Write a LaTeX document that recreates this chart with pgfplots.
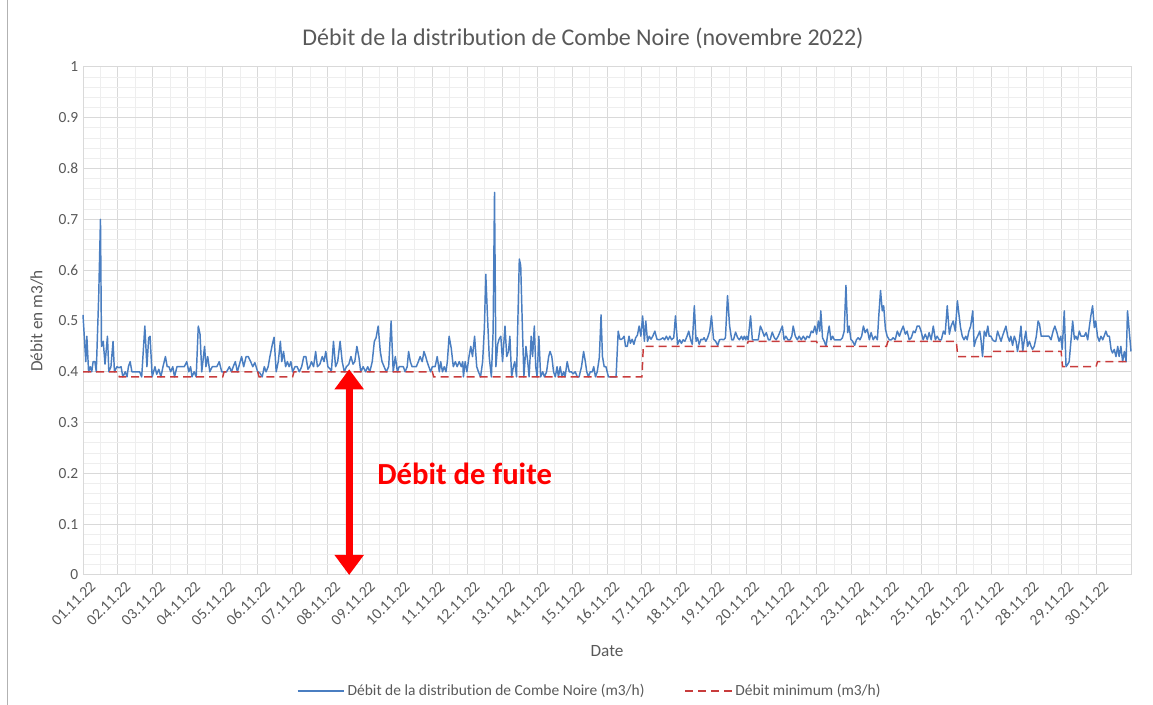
\documentclass[border=0pt]{standalone}
\usepackage{pgfplots}
\pgfplotsset{compat=1.18}
\usepackage{fontspec}
\setmainfont{Carlito}[Ligatures=NoCommon]
\usetikzlibrary{arrows.meta}
\definecolor{blueline}{RGB}{74,126,193}
\definecolor{redline}{RGB}{200,60,60}
\definecolor{txt}{RGB}{89,89,89}
\definecolor{gmaj}{RGB}{217,217,217}
\definecolor{gmin}{RGB}{238,238,238}
\begin{document}
\begin{tikzpicture}
\useasboundingbox (0,0) rectangle (864.75pt,528.75pt);
\draw[gray!60, line width=0.75pt] (5.25pt,0) -- (5.25pt,528.75pt);
\node[txt, font=\fontsize{18}{20}\selectfont] at (437.25pt,500.25pt) {Débit de la distribution de Combe Noire (novembre 2022)};
\begin{axis}[
  at={(62.25pt,97.5pt)}, anchor=south west,
  scale only axis, width=786pt, height=381pt,
  xmin=0, xmax=30, ymin=0, ymax=1,
  clip=false,
  xtick={0,1,...,29},
  xticklabels={01.11.22,02.11.22,03.11.22,04.11.22,05.11.22,06.11.22,07.11.22,08.11.22,09.11.22,10.11.22,11.11.22,12.11.22,13.11.22,14.11.22,15.11.22,16.11.22,17.11.22,18.11.22,19.11.22,20.11.22,21.11.22,22.11.22,23.11.22,24.11.22,25.11.22,26.11.22,27.11.22,28.11.22,29.11.22,30.11.22},
  ytick={0,0.1,0.2,0.3,0.4,0.5,0.6,0.7,0.8,0.9,1},
  yticklabels={0,0.1,0.2,0.3,0.4,0.5,0.6,0.7,0.8,0.9,1},
  minor x tick num=1, minor y tick num=4,
  grid=both,
  major grid style={gmaj, line width=0.75pt},
  minor grid style={gmin, line width=0.75pt},
  major tick length=0pt, minor tick length=0pt,
  axis line style={gmaj, line width=0.75pt},
  tick label style={txt, font=\fontsize{11.6}{13}\selectfont},
  xticklabel style={rotate=45, anchor=east, xshift=4pt, yshift=-10pt},
  xlabel={Date}, ylabel={Débit en m3/h},
  label style={txt, font=\fontsize{12.9}{14}\selectfont},
  xlabel style={at={(axis description cs:0.5,-0.15)}, anchor=center},
  ylabel style={at={(axis description cs:-0.044,0.5)}, anchor=center},
  legend style={at={(0.2,-0.228)}, anchor=west, draw=none, fill=none,
    legend columns=2, font=\fontsize{11.6}{13}\selectfont, text=txt,
    /tikz/every even column/.append style={column sep=28pt}},
  legend image code/.code={\draw[#1] (0pt,0pt) -- (35pt,0pt);},
]
\addplot[blueline, line width=1.1pt, line join=round] coordinates {
(0.00,0.512)(0.08,0.42)(0.11,0.47)(0.16,0.40)(0.21,0.41)(0.25,0.40)(0.29,0.42)(0.34,0.42)(0.38,0.40)(0.45,0.55)(0.50,0.70)(0.53,0.45)(0.58,0.46)(0.63,0.415)(0.70,0.47)(0.74,0.40)(0.80,0.41)(0.86,0.46)(0.90,0.40)(0.97,0.41)
(1.03,0.408)(1.09,0.41)(1.14,0.39)(1.21,0.40)(1.26,0.39)(1.30,0.41)(1.35,0.42)(1.40,0.40)(1.48,0.40)(1.54,0.40)(1.62,0.40)(1.68,0.39)(1.77,0.49)(1.83,0.41)(1.88,0.467)(1.92,0.47)(1.98,0.39)
(2.06,0.41)(2.11,0.395)(2.17,0.405)(2.23,0.39)(2.29,0.41)(2.36,0.43)(2.41,0.41)(2.46,0.41)(2.51,0.40)(2.57,0.41)(2.62,0.39)(2.69,0.41)(2.76,0.41)(2.84,0.41)(2.90,0.41)(2.97,0.42)
(3.03,0.40)(3.08,0.41)(3.12,0.39)(3.18,0.40)(3.24,0.39)(3.30,0.49)(3.35,0.474)(3.40,0.40)(3.48,0.45)(3.52,0.41)(3.57,0.43)(3.63,0.40)(3.70,0.41)(3.76,0.41)(3.83,0.41)(3.90,0.42)(3.97,0.40)
(4.04,0.40)(4.11,0.40)(4.19,0.41)(4.25,0.40)(4.30,0.41)(4.36,0.42)(4.42,0.40)(4.48,0.415)(4.54,0.43)(4.60,0.41)(4.67,0.43)(4.73,0.43)(4.80,0.42)(4.86,0.41)(4.92,0.418)(5.00,0.40)
(5.06,0.398)(5.13,0.39)(5.19,0.41)(5.24,0.40)(5.30,0.41)(5.35,0.43)(5.42,0.454)(5.47,0.468)(5.53,0.40)(5.59,0.42)(5.65,0.46)(5.69,0.42)(5.74,0.44)(5.80,0.41)(5.85,0.42)(5.90,0.41)(5.95,0.42)
(6.00,0.40)(6.07,0.41)(6.13,0.41)(6.19,0.40)(6.26,0.41)(6.32,0.43)(6.38,0.43)(6.44,0.405)(6.49,0.41)(6.54,0.42)(6.60,0.41)(6.66,0.44)(6.71,0.41)(6.78,0.415)(6.85,0.43)(6.90,0.42)(6.95,0.44)
(7.01,0.41)(7.08,0.405)(7.11,0.40)(7.17,0.46)(7.23,0.41)(7.29,0.42)(7.36,0.46)(7.42,0.42)(7.48,0.40)(7.54,0.41)(7.61,0.415)(7.67,0.43)(7.73,0.415)(7.78,0.42)(7.84,0.45)(7.90,0.428)(7.95,0.40)
(8.02,0.41)(8.09,0.40)(8.15,0.41)(8.21,0.40)(8.28,0.42)(8.34,0.46)(8.39,0.467)(8.45,0.49)(8.51,0.44)(8.56,0.42)(8.62,0.41)(8.68,0.40)(8.75,0.41)(8.82,0.50)(8.88,0.40)(8.94,0.43)
(9.00,0.40)(9.05,0.41)(9.11,0.41)(9.17,0.41)(9.22,0.40)(9.28,0.41)(9.32,0.44)(9.37,0.42)(9.42,0.41)(9.48,0.41)(9.54,0.41)(9.60,0.42)(9.65,0.43)(9.71,0.42)(9.76,0.44)(9.81,0.43)(9.85,0.42)(9.90,0.41)(9.95,0.40)
(10.00,0.41)(10.08,0.41)(10.14,0.43)(10.20,0.40)(10.24,0.42)(10.29,0.40)(10.34,0.41)(10.39,0.40)(10.43,0.42)(10.48,0.47)(10.54,0.447)(10.60,0.41)(10.66,0.42)(10.71,0.41)(10.77,0.42)(10.83,0.41)(10.87,0.42)(10.89,0.39)(10.94,0.42)(10.99,0.40)
(11.05,0.43)(11.10,0.45)(11.15,0.43)(11.21,0.47)(11.27,0.41)(11.32,0.40)(11.38,0.39)(11.44,0.42)(11.49,0.487)(11.53,0.592)(11.58,0.507)(11.63,0.428)(11.69,0.39)(11.74,0.48)(11.78,0.753)(11.82,0.41)(11.87,0.454)(11.91,0.464)(11.96,0.47)
(12.01,0.42)(12.08,0.49)(12.13,0.43)(12.18,0.44)(12.22,0.47)(12.27,0.39)(12.32,0.41)(12.36,0.42)(12.41,0.39)(12.49,0.622)(12.53,0.609)(12.57,0.507)(12.62,0.39)(12.68,0.45)(12.73,0.42)(12.77,0.39)(12.83,0.47)(12.87,0.43)(12.92,0.49)(12.96,0.41)
(13.00,0.39)(13.05,0.47)(13.10,0.39)(13.16,0.40)(13.21,0.39)(13.27,0.40)(13.33,0.43)(13.37,0.44)(13.42,0.43)(13.47,0.40)(13.52,0.39)(13.57,0.41)(13.61,0.39)(13.66,0.41)(13.71,0.39)(13.76,0.40)(13.80,0.39)(13.86,0.42)(13.92,0.40)(13.98,0.40)
(14.03,0.396)(14.09,0.40)(14.15,0.39)(14.20,0.39)(14.27,0.41)(14.33,0.44)(14.38,0.42)(14.42,0.40)(14.47,0.39)(14.52,0.40)(14.58,0.40)(14.62,0.41)(14.67,0.39)(14.72,0.40)(14.78,0.428)(14.83,0.512)(14.87,0.43)(14.92,0.41)(14.97,0.41)
(15.04,0.39)(15.13,0.39)(15.26,0.39)(15.32,0.48)(15.37,0.464)(15.42,0.464)(15.46,0.467)(15.49,0.47)(15.53,0.45)(15.58,0.45)(15.63,0.47)(15.67,0.456)(15.72,0.464)(15.77,0.454)(15.82,0.467)(15.87,0.472)(15.92,0.49)(15.97,0.47)
(16.02,0.51)(16.07,0.46)(16.11,0.50)(16.16,0.46)(16.21,0.47)(16.26,0.464)(16.31,0.47)(16.37,0.48)(16.43,0.464)(16.49,0.463)(16.54,0.464)(16.60,0.467)(16.65,0.463)(16.70,0.47)(16.75,0.463)(16.80,0.47)(16.85,0.463)(16.91,0.467)(16.96,0.51)
(17.02,0.454)(17.08,0.463)(17.13,0.456)(17.18,0.463)(17.23,0.46)(17.29,0.47)(17.34,0.48)(17.39,0.464)(17.44,0.454)(17.50,0.53)(17.55,0.46)(17.59,0.467)(17.64,0.454)(17.69,0.464)(17.74,0.463)(17.78,0.467)(17.83,0.46)(17.88,0.467)(17.94,0.48)(17.99,0.51)
(18.05,0.464)(18.11,0.46)(18.17,0.452)(18.22,0.463)(18.28,0.464)(18.34,0.463)(18.39,0.467)(18.45,0.55)(18.51,0.49)(18.57,0.463)(18.62,0.463)(18.68,0.478)(18.74,0.467)(18.79,0.463)(18.85,0.47)(18.89,0.463)(18.93,0.47)(18.97,0.463)
(19.00,0.47)(19.04,0.463)(19.11,0.51)(19.16,0.463)(19.22,0.463)(19.27,0.463)(19.33,0.463)(19.39,0.49)(19.44,0.482)(19.50,0.47)(19.56,0.477)(19.62,0.463)(19.67,0.463)(19.73,0.478)(19.79,0.467)(19.84,0.463)(19.90,0.47)(19.96,0.48)
(20.02,0.49)(20.07,0.463)(20.12,0.47)(20.18,0.463)(20.24,0.463)(20.29,0.47)(20.33,0.49)(20.39,0.47)(20.45,0.463)(20.50,0.47)(20.56,0.463)(20.62,0.47)(20.68,0.463)(20.73,0.47)(20.79,0.467)(20.85,0.48)(20.90,0.477)(20.95,0.49)
(21.00,0.474)(21.05,0.50)(21.09,0.48)(21.12,0.52)(21.17,0.467)(21.22,0.46)(21.27,0.45)(21.31,0.47)(21.36,0.49)(21.41,0.463)(21.46,0.47)(21.51,0.463)(21.57,0.463)(21.63,0.463)(21.69,0.463)(21.74,0.467)(21.79,0.48)(21.84,0.57)(21.89,0.477)(21.93,0.49)(21.98,0.464)
(22.03,0.46)(22.09,0.452)(22.14,0.463)(22.19,0.467)(22.24,0.463)(22.29,0.47)(22.34,0.49)(22.39,0.477)(22.45,0.484)(22.51,0.463)(22.56,0.477)(22.62,0.463)(22.68,0.47)(22.74,0.463)(22.78,0.51)(22.83,0.56)(22.88,0.52)(22.92,0.53)(22.97,0.484)
(23.02,0.47)(23.08,0.463)(23.14,0.463)(23.19,0.467)(23.25,0.463)(23.31,0.48)(23.37,0.47)(23.42,0.48)(23.48,0.49)(23.54,0.474)(23.59,0.48)(23.65,0.463)(23.71,0.467)(23.77,0.48)(23.82,0.477)(23.88,0.49)(23.94,0.49)(23.99,0.48)
(24.05,0.463)(24.11,0.474)(24.17,0.463)(24.22,0.477)(24.28,0.463)(24.34,0.49)(24.40,0.463)(24.45,0.47)(24.51,0.463)(24.57,0.463)(24.63,0.48)(24.68,0.474)(24.74,0.53)(24.80,0.474)(24.85,0.49)(24.91,0.50)(24.97,0.48)
(25.03,0.54)(25.08,0.51)(25.12,0.487)(25.17,0.47)(25.22,0.463)(25.27,0.47)(25.31,0.463)(25.36,0.48)(25.41,0.49)(25.47,0.52)(25.51,0.45)(25.56,0.463)(25.61,0.47)(25.67,0.48)(25.70,0.467)(25.75,0.43)(25.80,0.48)(25.85,0.47)(25.90,0.49)(25.94,0.47)(25.99,0.47)
(26.04,0.463)(26.09,0.46)(26.13,0.46)(26.18,0.48)(26.23,0.47)(26.28,0.46)(26.32,0.47)(26.37,0.48)(26.42,0.49)(26.47,0.47)(26.52,0.46)(26.56,0.47)(26.61,0.452)(26.66,0.47)(26.71,0.46)(26.75,0.44)(26.80,0.46)(26.85,0.49)(26.90,0.44)(26.94,0.46)(26.99,0.48)
(27.04,0.45)(27.09,0.46)(27.14,0.45)(27.18,0.444)(27.23,0.45)(27.29,0.47)(27.34,0.50)(27.38,0.494)(27.43,0.47)(27.48,0.47)(27.54,0.47)(27.59,0.47)(27.65,0.47)(27.71,0.463)(27.77,0.48)(27.82,0.49)(27.88,0.477)(27.94,0.46)(27.99,0.47)
(28.03,0.444)(28.09,0.52)(28.14,0.41)(28.19,0.415)(28.23,0.42)(28.28,0.46)(28.33,0.50)(28.38,0.464)(28.42,0.47)(28.47,0.463)(28.52,0.48)(28.57,0.47)(28.61,0.47)(28.66,0.47)(28.71,0.477)(28.76,0.463)(28.81,0.49)(28.85,0.51)(28.90,0.53)(28.95,0.487)(28.99,0.50)
(29.04,0.47)(29.09,0.46)(29.14,0.47)(29.19,0.463)(29.23,0.47)(29.28,0.48)(29.33,0.47)(29.38,0.47)(29.43,0.444)(29.47,0.437)(29.52,0.444)(29.57,0.43)(29.62,0.45)(29.66,0.43)(29.71,0.45)(29.76,0.42)(29.81,0.44)(29.86,0.42)(29.90,0.52)(29.95,0.48)(30.00,0.44)
};
\addlegendentry{Débit de la distribution de Combe Noire (m3/h)}
\addplot[redline, line width=1.1pt, dash pattern=on 6pt off 3.75pt] coordinates {
(0,0.40)(1,0.40)(1.04,0.39)(4,0.39)(4.04,0.40)(5,0.40)(5.04,0.39)(6,0.39)(6.04,0.40)(10,0.40)(10.04,0.39)(16,0.39)(16.04,0.45)(19,0.45)(19.04,0.46)(21,0.46)(21.04,0.45)(23,0.45)(23.04,0.46)(25,0.46)(25.04,0.43)(26,0.43)(26.04,0.44)(28,0.44)(28.04,0.41)(29,0.41)(29.04,0.42)(30,0.42)
};
\addlegendentry{Débit minimum (m3/h)}
\draw[red, line width=5.25pt, {Triangle[width=21pt,length=15pt]}-{Triangle[width=21pt,length=15pt]}] (axis cs:7.62,0.0) -- (axis cs:7.62,0.405);
\node[anchor=west, inner sep=0pt, text=red, font=\bfseries\fontsize{23}{25}\selectfont] at (axis cs:8.42,0.20) {Débit de fuite};
\end{axis}
\end{tikzpicture}
\end{document}
